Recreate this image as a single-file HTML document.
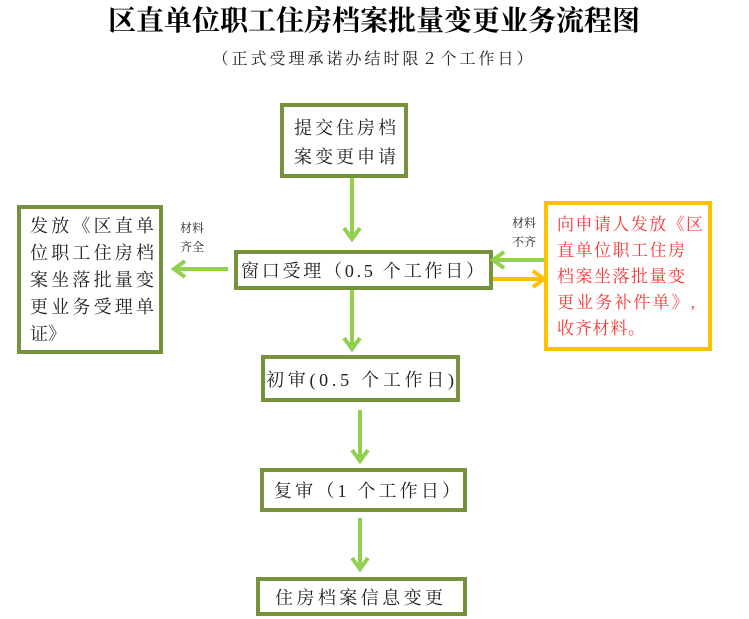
<!DOCTYPE html>
<html><head><meta charset="utf-8"><style>
html,body{margin:0;padding:0;background:#fff;}
svg{display:block;}
text{font-family:"Liberation Serif","Noto Serif CJK SC","Noto Sans CJK SC",serif;}
.t{font-size:18px;fill:#222;}
.s{font-size:12px;fill:#222;}
</style></head><body>
<svg width="749" height="619" viewBox="0 0 749 619" xmlns="http://www.w3.org/2000/svg">
<text x="374" y="30" text-anchor="middle" font-size="28" font-weight="bold" fill="#000">区直单位职工住房档案批量变更业务流程图</text>
<text x="374" y="64" text-anchor="middle" font-size="16" fill="#222" letter-spacing="3">（正式受理承诺办结时限２个工作日）</text>
<g fill="none" stroke="#76923c" stroke-width="4">
<rect x="282" y="105" width="124" height="71"/>
<rect x="19" y="207" width="142" height="145"/>
<rect x="236" y="252" width="255" height="36"/>
<rect x="263" y="357" width="195" height="43"/>
<rect x="262" y="470" width="203" height="40"/>
<rect x="258" y="579" width="207" height="35"/>
</g>
<rect x="546" y="203" width="164" height="146" fill="none" stroke="#ffc000" stroke-width="4"/>
<g stroke="#92d050" stroke-width="4" fill="none">
<line x1="352" y1="178" x2="352" y2="238"/><polyline points="344,228 352,239 360,228"/>
<line x1="352" y1="290" x2="352" y2="348"/><polyline points="344,338 352,349 360,338"/>
<line x1="360" y1="410" x2="360" y2="460"/><polyline points="352,450 360,461 368,450"/>
<line x1="360" y1="518" x2="360" y2="568"/><polyline points="352,558 360,569 368,558"/>
<line x1="228" y1="269" x2="175" y2="269"/><polyline points="185,261 174,269 185,277"/>
<line x1="544" y1="260" x2="494" y2="260"/><polyline points="504,252 493,260 504,268"/>
</g>
<g stroke="#ffc000" stroke-width="4" fill="none">
<line x1="493" y1="279" x2="543" y2="279"/><polyline points="533,271 544,279 533,287"/>
</g>
<text class="t" x="294" y="134" textLength="102">提交住房档</text>
<text class="t" x="294" y="163" textLength="102">案变更申请</text>
<text class="t" x="30" y="232" textLength="124">发放《区直单</text>
<text class="t" x="30" y="259" textLength="124">位职工住房档</text>
<text class="t" x="30" y="286" textLength="124">案坐落批量变</text>
<text class="t" x="30" y="313" textLength="124">更业务受理单</text>
<text class="t" x="30" y="340" textLength="36">证》</text>
<text class="t" x="241" y="277" textLength="243">窗口受理（0.5 个工作日）</text>
<text class="t" x="266" y="386" textLength="188">初审(0.5 个工作日)</text>
<text class="t" x="274" y="497" textLength="186">复审（1 个工作日）</text>
<text class="t" x="275" y="604" textLength="168">住房档案信息变更</text>
<g fill="#ff3333" font-size="17">
<text x="557" y="230" textLength="146">向申请人发放《区</text>
<text x="557" y="256" textLength="128">直单位职工住房</text>
<text x="557" y="282" textLength="128">档案坐落批量变</text>
<text x="557" y="308" textLength="138">更业务补件单》,</text>
<text x="557" y="334" textLength="88">收齐材料。</text>
</g>
<text class="s" x="180" y="232">材料</text>
<text class="s" x="180" y="251">齐全</text>
<text class="s" x="512" y="227">材料</text>
<text class="s" x="512" y="246">不齐</text>
</svg>
</body></html>
